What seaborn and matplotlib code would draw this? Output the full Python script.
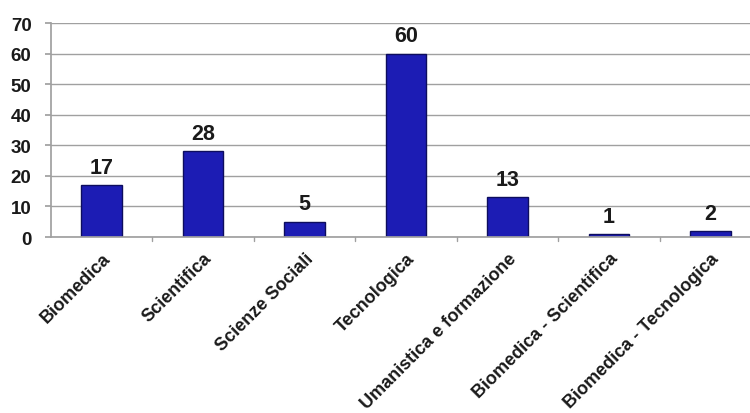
import matplotlib
matplotlib.use("Agg")
import matplotlib.pyplot as plt
import matplotlib.transforms as mtransforms
import seaborn as sns
import pandas as pd

categorie = ["Biomedica", "Scientifica", "Scienze Sociali", "Tecnologica",
             "Umanistica e formazione", "Biomedica - Scientifica",
             "Biomedica - Tecnologica"]
valori = [17, 28, 5, 60, 13, 1, 2]
yticks = [0, 10, 20, 30, 40, 50, 60, 70]

sns.set_theme(style="white")
plt.rcParams["font.family"] = ["Liberation Sans", "DejaVu Sans"]

df = pd.DataFrame({"area": categorie, "n": valori})

fig = plt.figure(figsize=(7.5, 4.14), dpi=100)
ax = fig.add_axes([0.068, 0.425, 0.947, 0.517])

sns.barplot(data=df, x="area", y="n", ax=ax, color="#1c1cb4",
            width=0.4, edgecolor="#0d0d5e", linewidth=1.0, saturation=1)

ax.set_ylim(0, 70)
ax.set_xlim(-0.5, len(categorie) - 0.5)
ax.set_yticks(yticks)
ax.set_yticklabels([str(t) for t in yticks], fontsize=13.5, fontweight="bold",
                   color="#1a1a1a")
ax.yaxis.grid(True, color="#a0a0a0", linewidth=1.0)
ax.set_axisbelow(True)

for s in ["top", "right"]:
    ax.spines[s].set_visible(False)
ax.spines["left"].set_color("#a0a0a0")
ax.spines["bottom"].set_color("#a0a0a0")

ax.set_xlabel("")
ax.set_ylabel("")

# category labels, rotated and nudged slightly left
ax.set_xticks(range(len(categorie)))
ax.set_xticklabels(categorie, rotation=45, ha="right", rotation_mode="anchor",
                   fontsize=13, fontweight="bold", color="#1a1a1a")
shift = mtransforms.ScaledTranslation(-5 / 100, 0, fig.dpi_scale_trans)
for lbl in ax.get_xticklabels():
    lbl.set_transform(lbl.get_transform() + shift)
ax.tick_params(axis="x", length=0, pad=9)
ax.tick_params(axis="y", length=4, color="#a0a0a0", pad=10, direction="out",
               left=True)

# small separator ticks between categories
for i in range(len(categorie) - 1):
    ax.plot([i + 0.5, i + 0.5], [0, -1.2], color="#a0a0a0", lw=1,
            clip_on=False)

# value labels above bars
for i, v in enumerate(valori):
    ax.text(i, v + 2.4, str(v), ha="center", va="bottom", fontsize=15.5,
            fontweight="bold", color="#1a1a1a")

fig.savefig("out.png", dpi=100)
